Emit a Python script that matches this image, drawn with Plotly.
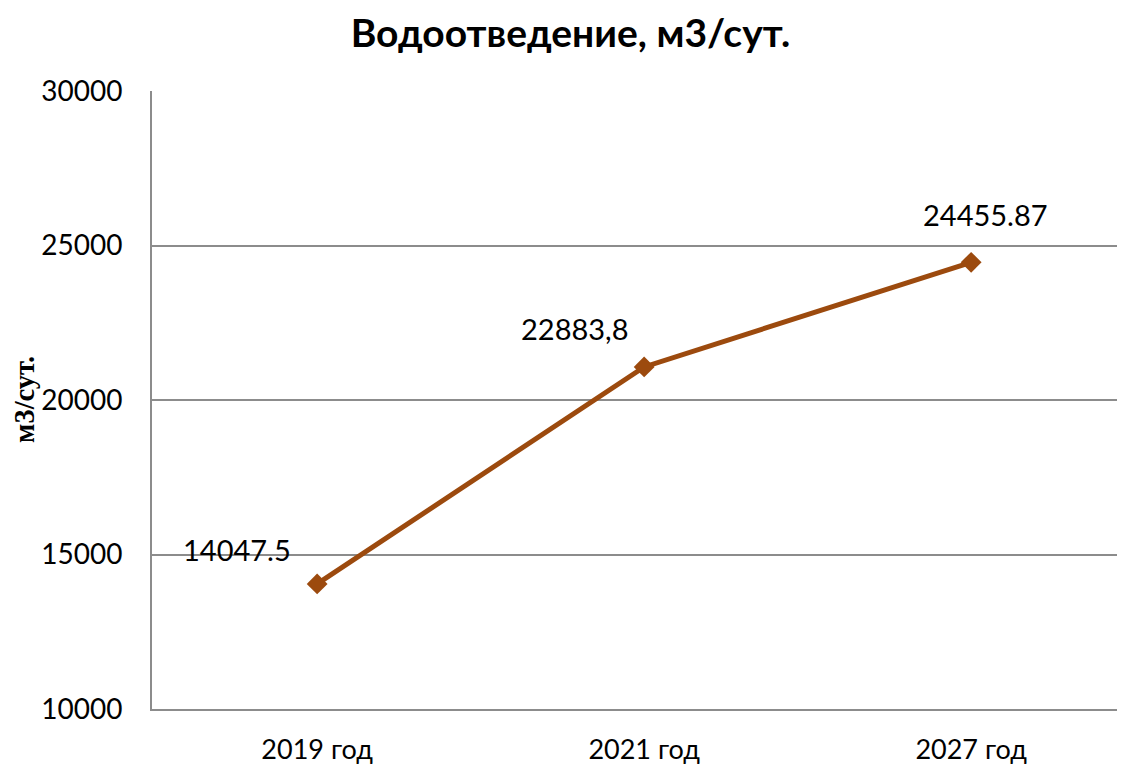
import plotly.graph_objects as go

categories = ["2019 год", "2021 год", "2027 год"]
values = [14047.5, 21070, 24455.87]
labels = ["14047.5", "22883,8", "24455.87"]
label_shifts = [(-80, 34), (-69, 38), (14, 48)]

color = "#9C4A0E"
sans = "Lato, Open Sans, sans-serif"

fig = go.Figure()
fig.add_trace(go.Scatter(
    x=list(range(len(categories))), y=values, mode="lines+markers",
    line=dict(color=color, width=5),
    marker=dict(symbol="diamond", size=16, color=color),
    hoverinfo="skip", showlegend=False,
))
for i, (lab, (dx, dy)) in enumerate(zip(labels, label_shifts)):
    fig.add_annotation(x=i, y=values[i], text=lab, showarrow=False,
                       xshift=dx, yshift=dy,
                       font=dict(family=sans, size=29, color="#000"))

fig.add_annotation(x=0, y=0.5, xref="paper", yref="paper", xshift=-128,
                   text="<b>м3/сут.</b>", textangle=-90, showarrow=False,
                   xanchor="center", yanchor="middle",
                   font=dict(family="Liberation Serif, Times New Roman, serif",
                             size=28.5, color="#000"))

fig.update_layout(
    width=1125, height=764,
    margin=dict(l=144, r=16, t=83, b=63, autoexpand=False),
    paper_bgcolor="white", plot_bgcolor="white",
    title=dict(text="<b>Водоотведение, м3/сут.</b>", x=0.5, xanchor="center",
               y=0.967, yanchor="middle",
               font=dict(family=sans, size=39, color="#000")),
    font=dict(family=sans, size=27, color="#000"),
)
fig.update_xaxes(
    tickmode="array", tickvals=list(range(len(categories))), ticktext=categories,
    range=[-0.505, 2.446], showgrid=False, zeroline=False, automargin=False,
    showline=True, linecolor="#8c8c8c", linewidth=2, mirror=False,
    ticks="", ticklabelstandoff=16, tickfont=dict(size=27),
)
fig.update_yaxes(
    range=[10000, 30000], dtick=5000, tick0=10000, tickformat="d",
    showgrid=True, gridcolor="#8c8c8c", gridwidth=1.5, automargin=False,
    showline=True, linecolor="#8c8c8c", linewidth=2, zeroline=False,
    ticks="", ticklabelstandoff=22, tickfont=dict(size=28),
)

fig.write_html("out.html")
